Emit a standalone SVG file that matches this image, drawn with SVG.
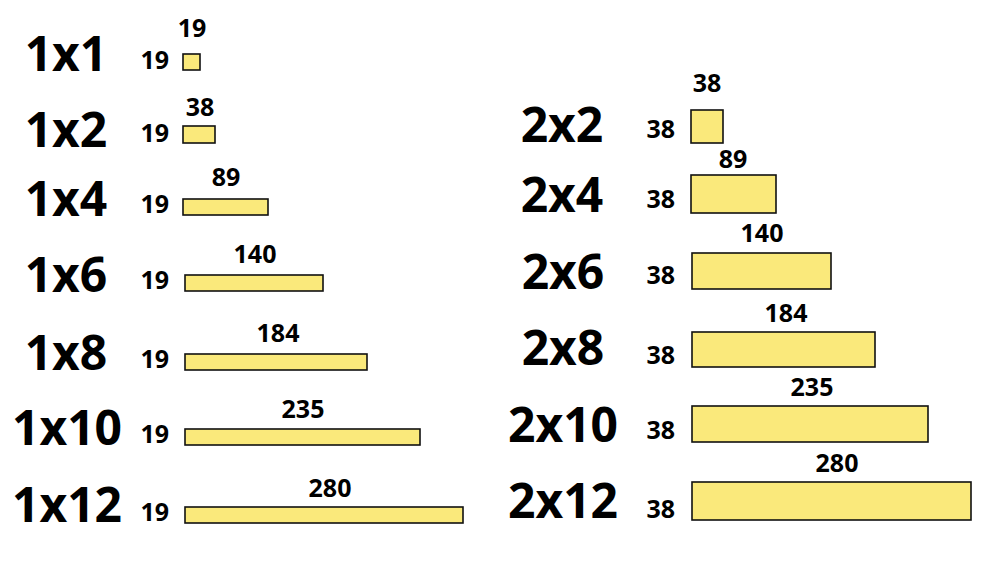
<svg xmlns="http://www.w3.org/2000/svg" width="1000" height="562" viewBox="0 0 1000 562">
<style>
.b{fill:#fae97b;stroke:#111;stroke-width:1.6}
.big{font-family:"Open Sans",sans-serif;font-weight:bold;font-size:48px;text-anchor:middle;fill:#000}
.s{font-family:"Open Sans",sans-serif;font-weight:bold;font-size:25px;fill:#000}
.t{text-anchor:middle}
.l{text-anchor:end}
</style>
<rect width="1000" height="562" fill="#fff"/>
<g id="n1x1"><text class="big" x="66" y="71">1x1</text><text class="s l" x="169" y="69">19</text><text class="s t" x="192" y="37">19</text><rect class="b" x="183" y="54" width="17" height="16"/></g>
<g id="n1x2"><text class="big" x="66" y="147">1x2</text><text class="s l" x="169" y="142">19</text><text class="s t" x="200" y="116">38</text><rect class="b" x="183" y="126" width="32" height="17"/></g>
<g id="n1x4"><text class="big" x="66" y="216">1x4</text><text class="s l" x="169" y="213">19</text><text class="s t" x="226" y="186">89</text><rect class="b" x="183" y="199" width="85" height="16"/></g>
<g id="n1x6"><text class="big" x="66" y="292">1x6</text><text class="s l" x="169" y="289">19</text><text class="s t" x="255" y="263">140</text><rect class="b" x="185" y="275" width="138" height="16"/></g>
<g id="n1x8"><text class="big" x="66" y="370">1x8</text><text class="s l" x="169" y="368">19</text><text class="s t" x="278" y="342">184</text><rect class="b" x="185" y="354" width="182" height="16"/></g>
<g id="n1x10"><text class="big" x="67" y="445">1x10</text><text class="s l" x="169" y="443">19</text><text class="s t" x="303" y="418">235</text><rect class="b" x="185" y="429" width="235" height="16"/></g>
<g id="n1x12"><text class="big" x="67" y="522">1x12</text><text class="s l" x="169" y="521">19</text><text class="s t" x="330" y="497">280</text><rect class="b" x="185" y="507" width="278" height="16"/></g>
<g id="n2x2"><text class="big" x="562" y="142">2x2</text><text class="s l" x="675" y="138">38</text><text class="s t" x="707" y="92">38</text><rect class="b" x="691" y="110" width="32" height="33"/></g>
<g id="n2x4"><text class="big" x="562" y="212">2x4</text><text class="s l" x="675" y="208">38</text><text class="s t" x="733" y="168">89</text><rect class="b" x="691" y="175" width="85" height="38"/></g>
<g id="n2x6"><text class="big" x="563" y="289">2x6</text><text class="s l" x="675" y="284">38</text><text class="s t" x="762" y="242">140</text><rect class="b" x="692" y="253" width="139" height="36"/></g>
<g id="n2x8"><text class="big" x="563" y="365">2x8</text><text class="s l" x="675" y="364">38</text><text class="s t" x="786" y="322">184</text><rect class="b" x="692" y="332" width="183" height="35"/></g>
<g id="n2x10"><text class="big" x="563" y="442">2x10</text><text class="s l" x="675" y="439">38</text><text class="s t" x="812" y="396">235</text><rect class="b" x="692" y="406" width="236" height="36"/></g>
<g id="n2x12"><text class="big" x="563" y="518">2x12</text><text class="s l" x="675" y="518">38</text><text class="s t" x="837" y="472">280</text><rect class="b" x="692" y="482" width="279" height="38"/></g>
<g id="connectors"/>
</svg>
